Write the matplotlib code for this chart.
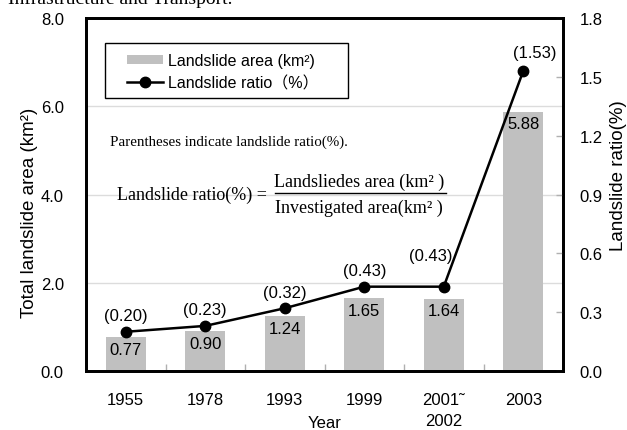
import matplotlib
matplotlib.use("Agg")
import matplotlib.pyplot as plt
import numpy as np
from matplotlib.patches import Rectangle, Patch
from matplotlib.lines import Line2D

years = ["1955", "1978", "1993", "1999", "2001˜\n2002", "2003"]
area = [0.77, 0.90, 1.24, 1.65, 1.64, 5.88]
ratio = [0.20, 0.23, 0.32, 0.43, 0.43, 1.53]
area_labels = ["0.77", "0.90", "1.24", "1.65", "1.64", "5.88"]
ratio_labels = ["(0.20)", "(0.23)", "(0.32)", "(0.43)", "(0.43)", "(1.53)"]
left_ticks = [0, 2, 4, 6, 8]
left_tick_labels = ["0.0", "2.0", "4.0", "6.0", "8.0"]
right_ticks = [0, 0.3, 0.6, 0.9, 1.2, 1.5, 1.8]
right_tick_labels = ["0.0", "0.3", "0.6", "0.9", "1.2", "1.5", "1.8"]

SANS = ["Liberation Sans", "Noto Sans CJK JP", "DejaVu Sans"]
SERIF = ["Liberation Serif", "DejaVu Serif"]
plt.rcParams['font.family'] = SANS

W, H = 627, 431
fig = plt.figure(figsize=(W / 100, H / 100), dpi=100)
ax = fig.add_axes([86 / W, 1 - 372 / H, 477 / W, 353 / H])
x = np.arange(len(years))

ax.bar(x, area, width=0.5, color='#c0c0c0', zorder=2)
ax.set_xlim(-0.5, len(years) - 0.5)
ax.set_ylim(0, 8)
ax.set_yticks(left_ticks)
ax.set_yticklabels(left_tick_labels, fontsize=12)
ax.yaxis.grid(True, color='#dcdcdc', lw=1)
ax.set_axisbelow(True)
ax.tick_params(axis='y', length=0, pad=16)
ax.set_xticks(x)
ax.set_xticklabels(years, fontsize=12, linespacing=1.5, va='top')
ax.set_xticks(np.arange(0.5, len(years) - 1, 1), minor=True)
ax.tick_params(axis='x', which='major', length=0, pad=15)
ax.tick_params(axis='x', which='minor', direction='in', length=5, color='#b0b0b0', width=1)
ax.set_xlabel("Year", fontsize=12)
ax.xaxis.set_label_coords(0.5, -0.125)
ax.set_ylabel("Total landslide area (km²)", fontsize=13.5)
ax.yaxis.set_label_coords(-0.100, 0.45)

for xi, v, lab in zip(x, area, area_labels):
    ax.annotate(lab, (xi, v), xytext=(0, -12 * 0.72), textcoords='offset points',
                ha='center', va='center', fontsize=12, zorder=4)

ax2 = ax.twinx()
ax2.set_ylim(0, 1.8)
ax2.set_yticks(right_ticks)
ax2.set_yticklabels(right_tick_labels, fontsize=12)
ax2.tick_params(axis='y', direction='in', length=5, color='#b0b0b0', width=1, pad=12)
ax2.plot(x, ratio, color='black', lw=1.8, marker='o', ms=7.5, zorder=3)
ax2.set_ylabel("Landslide ratio(%)", fontsize=13.5)
ax2.yaxis.set_label_coords(1.098, 0.555)

offsets = [(0, 16), (0, 16), (0, 16), (0, 16), (-13, 31), (11, 18)]
for xi, v, lab, (dx, dy) in zip(x, ratio, ratio_labels, offsets):
    ax2.annotate(lab, (xi, v), xytext=(dx * 0.72, dy * 0.72), textcoords='offset points',
                 ha='center', va='center', fontsize=12)

for a in (ax, ax2):
    for s in a.spines.values():
        s.set_linewidth(2)
        s.set_color('black')

# legend frame
fig.add_artist(Rectangle((105 / W, 1 - 99 / H), 243 / W, 55 / H, transform=fig.transFigure,
                         facecolor='white', edgecolor='black', lw=1, zorder=1))
handles = [Patch(facecolor='#c0c0c0', edgecolor='none'),
           Line2D([], [], color='black', lw=1.8, marker='o', ms=7.5)]
labels = ["Landslide area (km²)", "Landslide ratio（%）"]
leg = fig.legend(handles, labels, loc='upper left', bbox_to_anchor=(127 / W, 1 - 54 / H),
                 frameon=False, fontsize=11.5, borderpad=0, borderaxespad=0,
                 handlelength=2.25, handletextpad=0.3, labelspacing=0.45,
                 handleheight=0.55)
leg.set_zorder(5)

fig.text(110 / W, 1 - 142 / H, "Parentheses indicate landslide ratio(%).",
         family=SERIF, fontsize=10.8, va='center', ha='left', zorder=5)
fig.text(117 / W, 1 - 195 / H, "Landslide ratio(%) =", family=SERIF, fontsize=13,
         va='center', ha='left', zorder=5)
fig.text(359 / W, 1 - 182 / H, "Landsliedes area (km² )", family=SERIF, fontsize=13,
         va='center', ha='center', zorder=5)
fig.text(359 / W, 1 - 208 / H, "Investigated area(km² )", family=SERIF, fontsize=13,
         va='center', ha='center', zorder=5)
fig.add_artist(Line2D([275 / W, 446 / W], [1 - 194 / H, 1 - 194 / H], transform=fig.transFigure,
                      color='black', lw=1, zorder=5))

fig.text(8 / W, 1 - 4 / H, "Infrastructure and Transport.", family=SERIF, fontsize=14,
         va='baseline', ha='left')

fig.savefig("out.png", dpi=100)
